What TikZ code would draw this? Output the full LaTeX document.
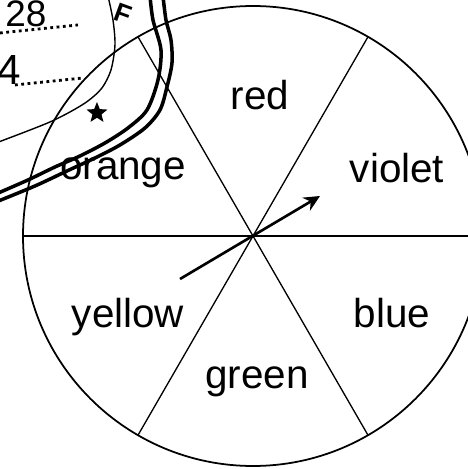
\documentclass[tikz,border=0pt]{standalone}
\usepackage{fontspec}
\setmainfont{Liberation Sans}
\usetikzlibrary{
  arrows.meta,
  shapes.geometric,
  positioning,
  calc
}
\tikzset{
  rim/.style={line width=1pt},
  spoke/.style={line width=0.75pt},
  colname/.style={font=\fontsize{23}{23}\selectfont, anchor=base, inner sep=0pt},
  pointer/.style={line width=1.5pt, -{Stealth[length=3.2mm, width=3mm]}},
  stampring/.style={line width=2pt},
  stampthin/.style={line width=0.8pt},
  stampdots/.style={line width=1.6pt, dotted},
  stamptext/.style={font=\fontsize{21}{21}\selectfont, inner sep=0pt}
}

\begin{document}
\begin{tikzpicture}
  \useasboundingbox (-5.06,-4.66) rectangle (4.30,4.72);
  \coordinate (hub) at (0,0);

  % the wheel
  \draw[rim] (hub) circle (4.6);
  \foreach \a in {0,60,120} {
    \draw[spoke] (\a:4.6) -- (\a+180:4.6);
  }

  % sector names
  \node[colname] (red)    at (0.14,2.52)  {red};
  \node[colname] (violet) at (2.88,1.06)  {violet};
  \node[colname] (orange) at (-2.60,1.12) {orange};
  \node[colname] (yellow) at (-2.50,-1.82) {yellow};
  \node[colname] (blue)   at (2.78,-1.82) {blue};
  \node[colname] (green)  at (0.08,-3.04) {green};

  % pointer
  \coordinate (tail) at (-1.46,-0.86);
  \coordinate (tip) at (1.34,0.80);
  \draw[pointer] (tail) -- (tip);

  % stamp (pixel coordinates)
  \begin{scope}[x=0.02cm, y=-0.02cm, shift={(-253,-236)}]
    \draw[stampring] plot[smooth] coordinates {(163,-4) (166,20) (171,40) (172,63) (167,87) (160,110) (145,128) (120,145) (95,158) (67,171) (35,186) (-4,202)};
    \draw[stampring] plot[smooth] coordinates {(150,-4) (153,20) (161,50) (158,80) (147,110) (128,128) (105,143) (80,156) (55,167) (28,180) (-4,194)};
    \draw[stampthin] plot[smooth] coordinates {(108,-4) (113,20) (115,45) (111,70) (102,88) (88,101) (70,112) (50,122) (25,132) (-4,143)};
    \draw[stampdots] (0,33) -- (78,25);
    \draw[stampdots] (15,85) -- (83,78);
    \node[stamptext] (num) at (26,14) {28};
    \node[stamptext, font=\fontsize{24}{24}\selectfont, anchor=west] (four) at (-3,70) {4};
    \node[stamptext, font=\fontsize{15}{15}\bfseries, rotate=-20] (mark) at (123,14) {F};
    \node[star, star points=5, star point ratio=2.3, fill=black, minimum size=0.44cm, inner sep=0pt] (stampstar) at (97,113) {};
  \end{scope}
\end{tikzpicture}
\end{document}
